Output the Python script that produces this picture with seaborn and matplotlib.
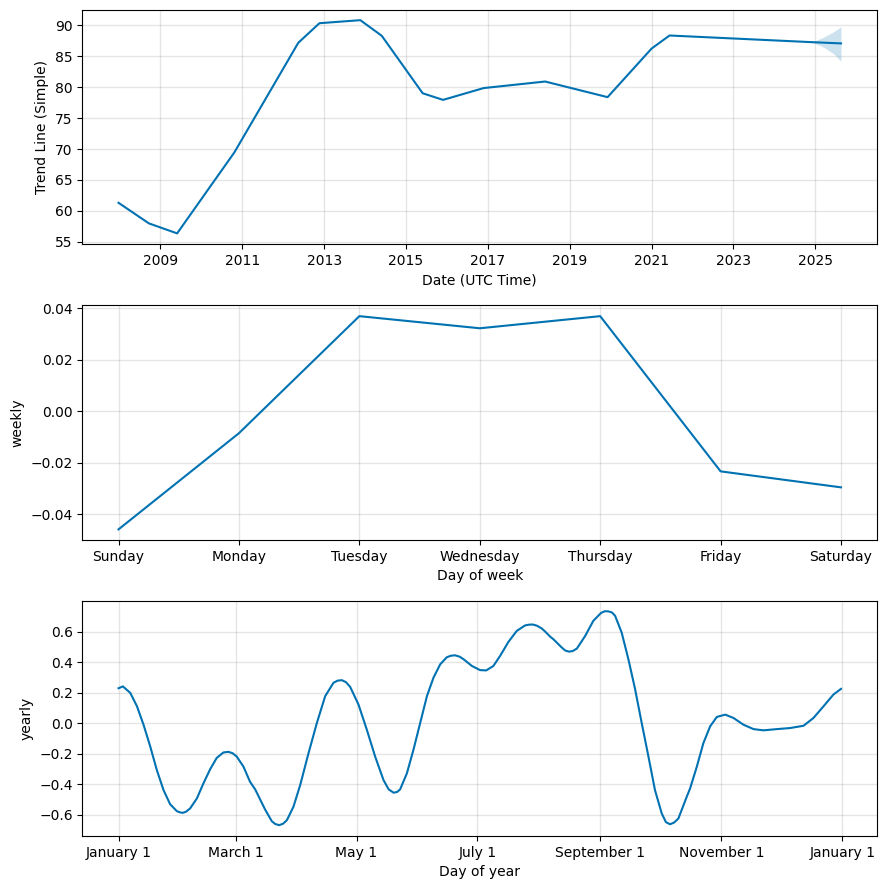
import pandas as pd
import matplotlib
matplotlib.use("Agg")
import matplotlib.pyplot as plt
import matplotlib.dates as mdates
import seaborn as sns

# Trend component
trend_dates = ['2007-12-24', '2008-09-20', '2009-05-30', '2010-10-23', '2012-05-15',
               '2012-11-20', '2013-11-20', '2014-05-30', '2015-05-30', '2015-11-28',
               '2016-11-24', '2018-05-27', '2019-12-05', '2021-01-01', '2021-06-10',
               '2024-12-01', '2025-08-18']
trend_vals = [61.3, 57.97, 56.35, 69.47, 87.2,
              90.37, 90.86, 88.33, 79.03, 77.96,
              79.87, 80.93, 78.4, 86.27, 88.38,
              87.3, 87.1]

# Forecast uncertainty band at the end of the trend
band_dates = ['2024-12-01', '2025-03-15', '2025-06-15', '2025-08-18']
band_upper = [87.3, 88.1, 89.0, 89.8]
band_lower = [87.3, 86.5, 85.4, 84.2]

# Weekly component
week_days = ['Sunday', 'Monday', 'Tuesday', 'Wednesday', 'Thursday', 'Friday', 'Saturday']
weekly_vals = [-0.0458, -0.0085, 0.0369, 0.0322, 0.0369, -0.0233, -0.0295]

# Yearly component: day of year -> value
year_days = [0, 2.2, 5.9, 9.3, 12.6, 16.0, 19.3, 22.7, 26.0, 29.4,
             31.0, 32.4, 34.0, 36.1, 39.5, 42.8, 46.2, 49.5, 52.9, 55.4,
             57.5, 59.6, 63.0, 66.3, 68.9, 73.9, 77.3, 79.0, 81.0, 83.0,
             84.9, 88.2, 91.6, 95.8, 100.0, 104.2, 108.4, 110.5, 112.6, 114.7,
             116.8, 121.0, 125.2, 129.4, 133.6, 136.2, 138.7, 140.5, 142.0, 145.4,
             148.7, 152.1, 155.5, 158.8, 162.2, 165.5, 167.5, 169.7, 172.0, 174.0,
             178.2, 182.3, 185.4, 189.0, 192.4, 196.6, 200.8, 205.0, 207.0, 208.9,
             211.0, 213.4, 215.1, 217.6, 219.3, 223.5, 225.3, 227.2, 229.0, 231.1,
             235.3, 239.4, 243.3, 245.2, 247.0, 248.8, 250.4, 253.7, 257.1, 260.5,
             263.8, 267.2, 270.5, 273.9, 276.0, 278.1, 280.2, 282.3, 286.5, 288.2,
             291.6, 294.9, 298.3, 301.7, 305.9, 310.1, 315.1, 320.2, 325.2, 331.9,
             338.6, 345.4, 350.4, 355.5, 360.5, 364.3]
yearly_vals = [0.228, 0.240, 0.198, 0.110, -0.011, -0.154, -0.308, -0.440, -0.532, -0.578,
               -0.586, -0.589, -0.582, -0.560, -0.495, -0.396, -0.303, -0.229, -0.193, -0.189,
               -0.198, -0.220, -0.286, -0.385, -0.435, -0.567, -0.644, -0.662, -0.670, -0.660,
               -0.637, -0.549, -0.407, -0.198, 0.000, 0.176, 0.264, 0.278, 0.281, 0.268,
               0.237, 0.121, -0.044, -0.220, -0.374, -0.435, -0.457, -0.452, -0.435, -0.330,
               -0.176, 0.000, 0.176, 0.297, 0.385, 0.431, 0.441, 0.444, 0.435, 0.418,
               0.374, 0.347, 0.345, 0.374, 0.440, 0.532, 0.604, 0.640, 0.645, 0.646,
               0.638, 0.620, 0.600, 0.567, 0.549, 0.495, 0.475, 0.468, 0.472, 0.488,
               0.571, 0.670, 0.722, 0.733, 0.732, 0.725, 0.703, 0.593, 0.418, 0.220,
               0.000, -0.220, -0.440, -0.593, -0.650, -0.664, -0.652, -0.626, -0.484, -0.429,
               -0.286, -0.132, -0.022, 0.040, 0.055, 0.033, -0.011, -0.040, -0.048, -0.040,
               -0.033, -0.018, 0.033, 0.110, 0.187, 0.224]

color = '#0072B2'

trend_df = pd.DataFrame({'ds': pd.to_datetime(trend_dates), 'trend': trend_vals})
weekly_df = pd.DataFrame({'pos': range(len(week_days)), 'weekly': weekly_vals})
yearly_df = pd.DataFrame({
    'ds': pd.Timestamp('2017-01-01') + pd.to_timedelta(year_days, unit='D'),
    'yearly': yearly_vals,
})

fig, axes = plt.subplots(3, 1, figsize=(8.86, 8.89), dpi=100)
fig.subplots_adjust(left=0.093, right=0.990, top=0.9893, bottom=0.0596, hspace=0.262)

# Trend
ax = axes[0]
sns.lineplot(data=trend_df, x='ds', y='trend', color=color, ax=ax)
ax.fill_between(pd.to_datetime(band_dates), band_lower, band_upper,
                color=color, alpha=0.2, linewidth=0)
ax.set_xticks(pd.to_datetime([f'{y}-01-01' for y in range(2009, 2026, 2)]))
ax.xaxis.set_major_formatter(mdates.DateFormatter('%Y'))
ax.set_xlabel('Date (UTC Time)')
ax.set_ylabel('Trend Line (Simple)')

# Weekly
ax = axes[1]
sns.lineplot(data=weekly_df, x='pos', y='weekly', color=color, ax=ax)
ax.set_xticks(range(len(week_days)))
ax.set_xticklabels(week_days)
ax.set_xlabel('Day of week')
ax.set_ylabel('weekly')

# Yearly
ax = axes[2]
sns.lineplot(data=yearly_df, x='ds', y='yearly', color=color, ax=ax)
ax.xaxis.set_major_locator(mdates.MonthLocator(bymonth=[1, 3, 5, 7, 9, 11]))
ax.xaxis.set_major_formatter(
    plt.FuncFormatter(lambda x, pos: mdates.num2date(x).strftime('%B %-d')))
ax.set_ylim(-0.741, 0.797)
ax.set_xlabel('Day of year')
ax.set_ylabel('yearly')

for ax in axes:
    ax.grid(True, which='major', c='gray', ls='-', lw=1, alpha=0.2)

fig.savefig('out.png', dpi=100)
